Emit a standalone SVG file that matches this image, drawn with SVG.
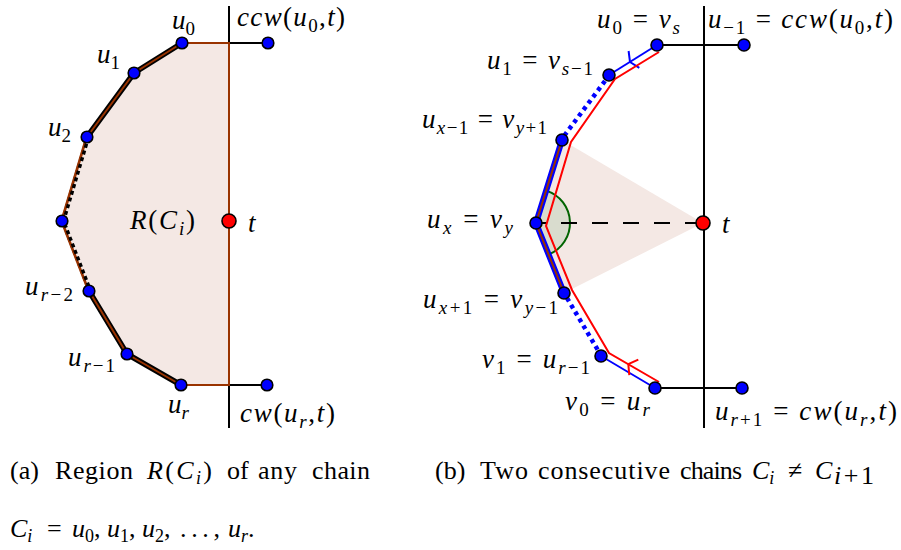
<svg xmlns="http://www.w3.org/2000/svg" width="901" height="550" viewBox="0 0 901 550">
<defs>
<style>
.lbl{font-family:"Liberation Serif","Times New Roman",serif;font-size:27px;fill:#000}
.cap{font-family:"Liberation Serif","Times New Roman",serif;font-size:26px;fill:#000}
.it{font-style:italic}
.sub{font-size:19px}
.csub{font-size:18px}
.pt{stroke:#000;stroke-width:1.6}
.blue{fill:#0000ff}
.red{fill:#ff0000}
.axis{stroke:#000;stroke-width:2;fill:none}
.region{fill:#f4e8e4}
.chainout{stroke:#000;stroke-width:5.5;fill:none;stroke-linejoin:round}
.chainin{stroke:#993300;stroke-width:2;fill:none;stroke-linejoin:round}
.dashout{stroke:#000;stroke-width:4.5;fill:none;stroke-dasharray:4 3}
.dashin{stroke:#993300;stroke-width:1.5;fill:none}
.bl{stroke:#0000ff;stroke-width:2;fill:none}
.bdot{stroke:#0000ff;stroke-width:4.5;fill:none;stroke-dasharray:4 4}
.rd{stroke:#ff0000;stroke-width:2;fill:none;stroke-linejoin:miter}
</style>
</defs>
<rect width="901" height="550" fill="#ffffff"/>

<!-- ===== Left figure ===== -->
<g id="left-axes">
<line class="axis" x1="229" y1="6" x2="229" y2="428"/>
<line class="axis" x1="229" y1="43" x2="268" y2="43"/>
<line class="axis" x1="229" y1="385" x2="267" y2="385"/>
</g>
<g id="left-region">
<polygon class="region" points="182,43 134,73 87,137 62,221 89,291 127,354 181,385 229,385 229,43" stroke="#993300" stroke-width="2"/>
<text class="lbl" x="130" y="229" textLength="65" lengthAdjust="spacing"><tspan class="it">R</tspan>(<tspan class="it">C</tspan><tspan class="sub it" dy="6">i</tspan><tspan dy="-6">)</tspan></text>
</g>
<g id="left-connectors">
<polyline class="chainout" points="182,43 134,73 87,137"/>
<polyline class="chainin" points="182,43 134,73 87,137"/>
<polyline class="chainout" points="89,291 127,354 181,385"/>
<polyline class="chainin" points="89,291 127,354 181,385"/>
<polyline class="dashout" points="88,137 63,221 90,291"/>
<polyline class="dashin" points="86,137 61,221 88,291"/>
</g>
<g id="L-u0"><circle class="pt blue" cx="182" cy="43" r="5.8"/>
<text class="lbl" x="172" y="29"><tspan class="it">u</tspan><tspan class="sub" dy="6">0</tspan></text></g>
<g id="L-ccw"><circle class="pt blue" cx="268" cy="43" r="5.8"/>
<text class="lbl" x="237" y="26" textLength="108" lengthAdjust="spacing"><tspan class="it">ccw</tspan>(<tspan class="it">u</tspan><tspan class="sub" dy="6">0</tspan><tspan dy="-6">,</tspan><tspan class="it">t</tspan>)</text></g>
<g id="L-u1"><circle class="pt blue" cx="134" cy="73" r="5.8"/>
<text class="lbl" x="97" y="63"><tspan class="it">u</tspan><tspan class="sub" dy="6">1</tspan></text></g>
<g id="L-u2"><circle class="pt blue" cx="87" cy="137" r="5.8"/>
<text class="lbl" x="48" y="136"><tspan class="it">u</tspan><tspan class="sub" dy="6">2</tspan></text></g>
<g id="L-mid"><circle class="pt blue" cx="62" cy="221" r="5.8"/></g>
<g id="L-t"><circle class="pt red" cx="229" cy="221" r="7"/>
<text class="lbl it" x="248" y="232">t</text></g>
<g id="L-ur2"><circle class="pt blue" cx="89" cy="291" r="5.8"/>
<text class="lbl" x="25" y="295" textLength="48" lengthAdjust="spacing"><tspan class="it">u</tspan><tspan class="sub it" dy="6">r</tspan><tspan class="sub">−2</tspan></text></g>
<g id="L-ur1"><circle class="pt blue" cx="127" cy="354" r="5.8"/>
<text class="lbl" x="68" y="366" textLength="47" lengthAdjust="spacing"><tspan class="it">u</tspan><tspan class="sub it" dy="6">r</tspan><tspan class="sub">−1</tspan></text></g>
<g id="L-ur"><circle class="pt blue" cx="181" cy="385" r="5.8"/>
<text class="lbl" x="168" y="413"><tspan class="it">u</tspan><tspan class="sub it" dy="6">r</tspan></text></g>
<g id="L-cw"><circle class="pt blue" cx="267" cy="385" r="5.8"/>
<text class="lbl" x="240" y="422" textLength="95" lengthAdjust="spacing"><tspan class="it">cw</tspan>(<tspan class="it">u</tspan><tspan class="sub it" dy="6">r</tspan><tspan dy="-6">,</tspan><tspan class="it">t</tspan>)</text></g>

<!-- ===== Right figure ===== -->
<g id="right-axes">
<line class="axis" x1="704" y1="6" x2="704" y2="428"/>
<line class="axis" x1="657" y1="45" x2="744" y2="45"/>
<line class="axis" x1="655" y1="388" x2="742" y2="388"/>
</g>
<g id="right-region">
<polygon class="region" points="562,140 536,223 564,293 703,223"/>
<path d="M536,223 L546.2,190.6 A34,34 0 0,1 548.6,254.6 Z" fill="#d6dacb" fill-opacity="0.9"/>
<path d="M546.2,190.6 A34,34 0 0,1 548.6,254.6" fill="none" stroke="#006400" stroke-width="2"/>
</g>
<g id="right-connectors">
<line x1="536" y1="223" x2="703" y2="223" stroke="#000" stroke-width="2" stroke-dasharray="16 15" stroke-dashoffset="6"/>
<line class="bl" x1="657" y1="45" x2="609" y2="75"/>
<polyline class="bl" points="628.6,51 630,62 639.3,67.8"/>
<line class="bdot" x1="605" y1="81" x2="564" y2="136"/>
<polyline points="562,140 536,223 564,293" stroke="#0000ff" stroke-width="6" fill="none" stroke-linejoin="round"/>
<polyline points="562,140 536,223 564,293" stroke="#993300" stroke-width="2" fill="none"/>
<line class="bdot" x1="567" y1="298" x2="599" y2="352"/>
<line class="bl" x1="601" y1="356" x2="655" y2="388"/>
<polyline class="rd" points="659,52 615,79 571,142 546,226 572,290 609,353 659,382"/>
<polyline class="rd" points="638.3,359.6 628.3,364.2 629.3,375.2"/>
</g>
<g id="R-u0"><circle class="pt blue" cx="657" cy="45" r="6"/>
<text class="lbl" x="597" y="28" textLength="83" lengthAdjust="spacing"><tspan class="it">u</tspan><tspan class="sub" dy="6">0</tspan><tspan dy="-6"> = </tspan><tspan class="it">v</tspan><tspan class="sub it" dy="6">s</tspan></text></g>
<g id="R-um1"><circle class="pt blue" cx="744" cy="45" r="6"/>
<text class="lbl" x="708" y="28" textLength="185" lengthAdjust="spacing"><tspan class="it">u</tspan><tspan class="sub" dy="6">−1</tspan><tspan dy="-6"> = </tspan><tspan class="it">ccw</tspan>(<tspan class="it">u</tspan><tspan class="sub" dy="6">0</tspan><tspan dy="-6">,</tspan><tspan class="it">t</tspan>)</text></g>
<g id="R-u1"><circle class="pt blue" cx="609" cy="75" r="6"/>
<text class="lbl" x="487" y="69" textLength="106" lengthAdjust="spacing"><tspan class="it">u</tspan><tspan class="sub" dy="6">1</tspan><tspan dy="-6"> = </tspan><tspan class="it">v</tspan><tspan class="sub it" dy="6">s</tspan><tspan class="sub">−1</tspan></text></g>
<g id="R-uxm1"><circle class="pt blue" cx="562" cy="140" r="6"/>
<text class="lbl" x="422" y="128" textLength="125" lengthAdjust="spacing"><tspan class="it">u</tspan><tspan class="sub it" dy="6">x</tspan><tspan class="sub">−1</tspan><tspan dy="-6"> = </tspan><tspan class="it">v</tspan><tspan class="sub it" dy="6">y</tspan><tspan class="sub">+1</tspan></text></g>
<g id="R-ux"><circle class="pt blue" cx="536" cy="223" r="6"/>
<text class="lbl" x="427" y="228" textLength="86" lengthAdjust="spacing"><tspan class="it">u</tspan><tspan class="sub it" dy="6">x</tspan><tspan dy="-6"> = </tspan><tspan class="it">v</tspan><tspan class="sub it" dy="6">y</tspan></text></g>
<g id="R-t"><circle class="pt red" cx="703" cy="223" r="7"/>
<text class="lbl it" x="722" y="233">t</text></g>
<g id="R-uxp1"><circle class="pt blue" cx="564" cy="293" r="6"/>
<text class="lbl" x="423" y="308" textLength="135" lengthAdjust="spacing"><tspan class="it">u</tspan><tspan class="sub it" dy="6">x</tspan><tspan class="sub">+1</tspan><tspan dy="-6"> = </tspan><tspan class="it">v</tspan><tspan class="sub it" dy="6">y</tspan><tspan class="sub">−1</tspan></text></g>
<g id="R-v1"><circle class="pt blue" cx="601" cy="356" r="6"/>
<text class="lbl" x="482" y="368" textLength="108" lengthAdjust="spacing"><tspan class="it">v</tspan><tspan class="sub" dy="6">1</tspan><tspan dy="-6"> = </tspan><tspan class="it">u</tspan><tspan class="sub it" dy="6">r</tspan><tspan class="sub">−1</tspan></text></g>
<g id="R-v0"><circle class="pt blue" cx="655" cy="388" r="6"/>
<text class="lbl" x="565" y="410" textLength="85" lengthAdjust="spacing"><tspan class="it">v</tspan><tspan class="sub" dy="6">0</tspan><tspan dy="-6"> = </tspan><tspan class="it">u</tspan><tspan class="sub it" dy="6">r</tspan></text></g>
<g id="R-urp1"><circle class="pt blue" cx="742" cy="388" r="6"/>
<text class="lbl" x="715" y="420" textLength="182" lengthAdjust="spacing"><tspan class="it">u</tspan><tspan class="sub it" dy="6">r</tspan><tspan class="sub">+1</tspan><tspan dy="-6"> = </tspan><tspan class="it">cw</tspan>(<tspan class="it">u</tspan><tspan class="sub it" dy="6">r</tspan><tspan dy="-6">,</tspan><tspan class="it">t</tspan>)</text></g>

<!-- ===== Captions ===== -->
<g id="caption-a">
<text class="cap" x="10" y="479">(a)</text>
<text class="cap" x="55" y="479" textLength="78" lengthAdjust="spacing">Region</text>
<text class="cap" x="147" y="479" textLength="65" lengthAdjust="spacing"><tspan class="it">R</tspan>(<tspan class="it">C</tspan><tspan class="csub it" dy="5">i</tspan><tspan dy="-5">)</tspan></text>
<text class="cap" x="227" y="479">of</text>
<text class="cap" x="258" y="479" textLength="39" lengthAdjust="spacing">any</text>
<text class="cap" x="312" y="479" textLength="58" lengthAdjust="spacing">chain</text>
<text class="cap" x="10" y="537"><tspan class="it">C</tspan><tspan class="csub it" dy="5">i</tspan></text>
<text class="cap" x="47" y="537">=</text>
<text class="cap" x="72" y="537"><tspan class="it">u</tspan><tspan class="csub" dy="5">0</tspan><tspan dy="-5">,</tspan></text>
<text class="cap" x="107" y="537"><tspan class="it">u</tspan><tspan class="csub" dy="5">1</tspan><tspan dy="-5">,</tspan></text>
<text class="cap" x="142" y="537"><tspan class="it">u</tspan><tspan class="csub" dy="5">2</tspan><tspan dy="-5">,</tspan></text>
<text class="cap" x="180" y="537" textLength="40" lengthAdjust="spacing">. . . ,</text>
<text class="cap" x="228" y="537"><tspan class="it">u</tspan><tspan class="csub it" dy="5">r</tspan><tspan dy="-5">.</tspan></text>
</g>
<g id="caption-b">
<text class="cap" x="435" y="479">(b)</text>
<text class="cap" x="480" y="479" textLength="48" lengthAdjust="spacing">Two</text>
<text class="cap" x="538" y="479" textLength="132" lengthAdjust="spacing">consecutive</text>
<text class="cap" x="680" y="479" textLength="62" lengthAdjust="spacing">chains</text>
<text class="cap" x="752" y="479"><tspan class="it">C</tspan><tspan class="csub it" dy="5">i</tspan></text>
<text class="cap" x="788" y="479">≠</text>
<text class="cap it" x="815" y="479">C</text>
<text class="cap" x="834" y="484" font-size="19" textLength="40" lengthAdjust="spacing"><tspan class="it">i</tspan>+1</text>
</g>
</svg>
